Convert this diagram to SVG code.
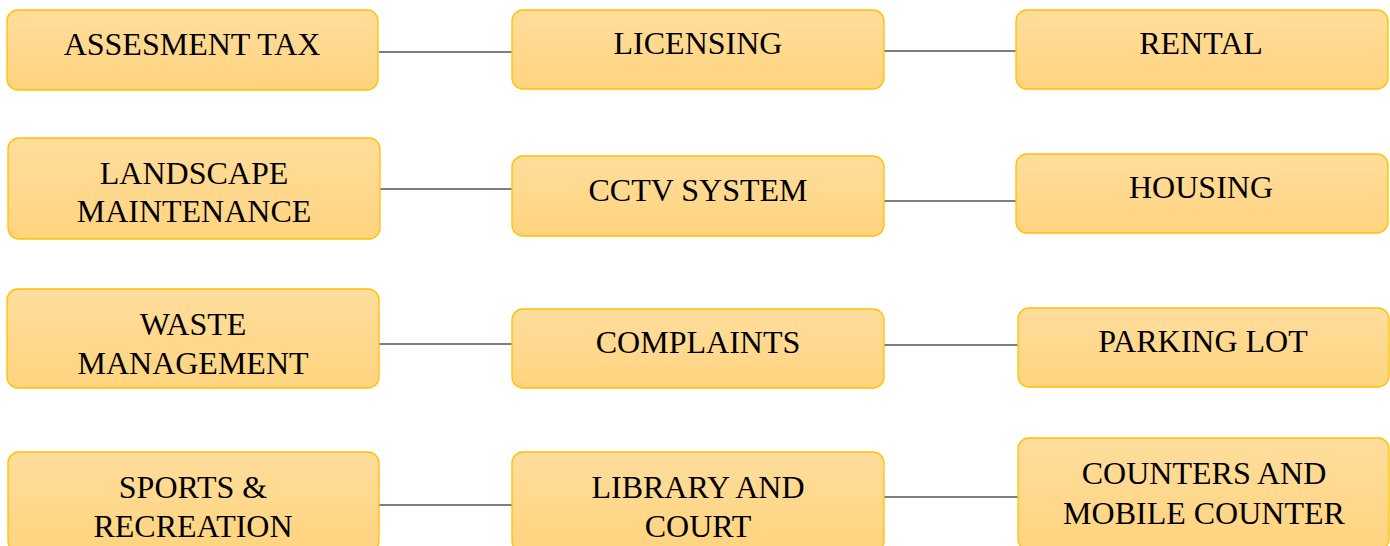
<svg xmlns="http://www.w3.org/2000/svg" width="1390" height="546" viewBox="0 0 1390 546">
<defs>
<linearGradient id="g" x1="0" y1="0" x2="0" y2="1">
<stop offset="0" stop-color="#FFDD9C"/>
<stop offset="1" stop-color="#FFD47F"/>
</linearGradient>
<style>
.box{fill:url(#g);stroke:#FFC000;stroke-width:1.3}
.c{stroke:#000;stroke-width:1.2;fill:none}
</style>
</defs>
<rect width="1390" height="546" fill="#fff"/>
<g id="connectors">
<line class="c" x1="379" y1="52" x2="512" y2="52"/>
<line class="c" x1="884" y1="51" x2="1016" y2="51"/>
<line class="c" x1="380" y1="189" x2="512" y2="189"/>
<line class="c" x1="884" y1="201" x2="1016" y2="201"/>
<line class="c" x1="379" y1="344" x2="512" y2="344"/>
<line class="c" x1="884" y1="345" x2="1018" y2="345"/>
<line class="c" x1="379" y1="505" x2="512" y2="505"/>
<line class="c" x1="884" y1="497" x2="1018" y2="497"/>
</g>
<g id="nodes" font-size="32" fill="#000" text-anchor="middle">
<g id="n1"><rect class="box" x="7" y="10" width="371" height="80" rx="11"/><text font-family="'Liberation Serif', serif" x="192" y="55">ASSESMENT TAX</text></g>
<g id="n2"><rect class="box" x="512" y="10" width="372" height="79" rx="11"/><text font-family="'Liberation Serif', serif" x="698" y="54">LICENSING</text></g>
<g id="n3"><rect class="box" x="1016" y="10" width="372" height="79" rx="11"/><text font-family="'Liberation Serif', serif" x="1201" y="54">RENTAL</text></g>
<g id="n4"><rect class="box" x="8" y="138" width="372" height="101" rx="11"/><text font-family="'Liberation Serif', serif" x="194" y="184">LANDSCAPE</text><text font-family="'Liberation Serif', serif" x="194" y="222">MAINTENANCE</text></g>
<g id="n5"><rect class="box" x="512" y="156" width="372" height="80" rx="11"/><text font-family="'Liberation Serif', serif" x="698" y="201">CCTV SYSTEM</text></g>
<g id="n6"><rect class="box" x="1016" y="154" width="372" height="79" rx="11"/><text font-family="'Liberation Serif', serif" x="1201" y="198">HOUSING</text></g>
<g id="n7"><rect class="box" x="7" y="289" width="372" height="99" rx="11"/><text font-family="'Liberation Serif', serif" x="193" y="335">WASTE</text><text font-family="'Liberation Serif', serif" x="193" y="374">MANAGEMENT</text></g>
<g id="n8"><rect class="box" x="512" y="309" width="372" height="79" rx="11"/><text font-family="'Liberation Serif', serif" x="698" y="353">COMPLAINTS</text></g>
<g id="n9"><rect class="box" x="1018" y="308" width="371" height="79" rx="11"/><text font-family="'Liberation Serif', serif" x="1203" y="352">PARKING LOT</text></g>
<g id="n10"><rect class="box" x="8" y="452" width="371" height="100" rx="11"/><text font-family="'Liberation Serif', serif" x="193" y="498">SPORTS &amp;</text><text font-family="'Liberation Serif', serif" x="193" y="537">RECREATION</text></g>
<g id="n11"><rect class="box" x="512" y="452" width="372" height="100" rx="11"/><text font-family="'Liberation Serif', serif" x="698" y="498">LIBRARY AND</text><text font-family="'Liberation Serif', serif" x="698" y="537">COURT</text></g>
<g id="n12"><rect class="box" x="1018" y="438" width="371" height="112" rx="11"/><text font-family="'Liberation Serif', serif" x="1204" y="484">COUNTERS AND</text><text font-family="'Liberation Serif', serif" x="1204" y="524">MOBILE COUNTER</text></g>
</g>
</svg>
